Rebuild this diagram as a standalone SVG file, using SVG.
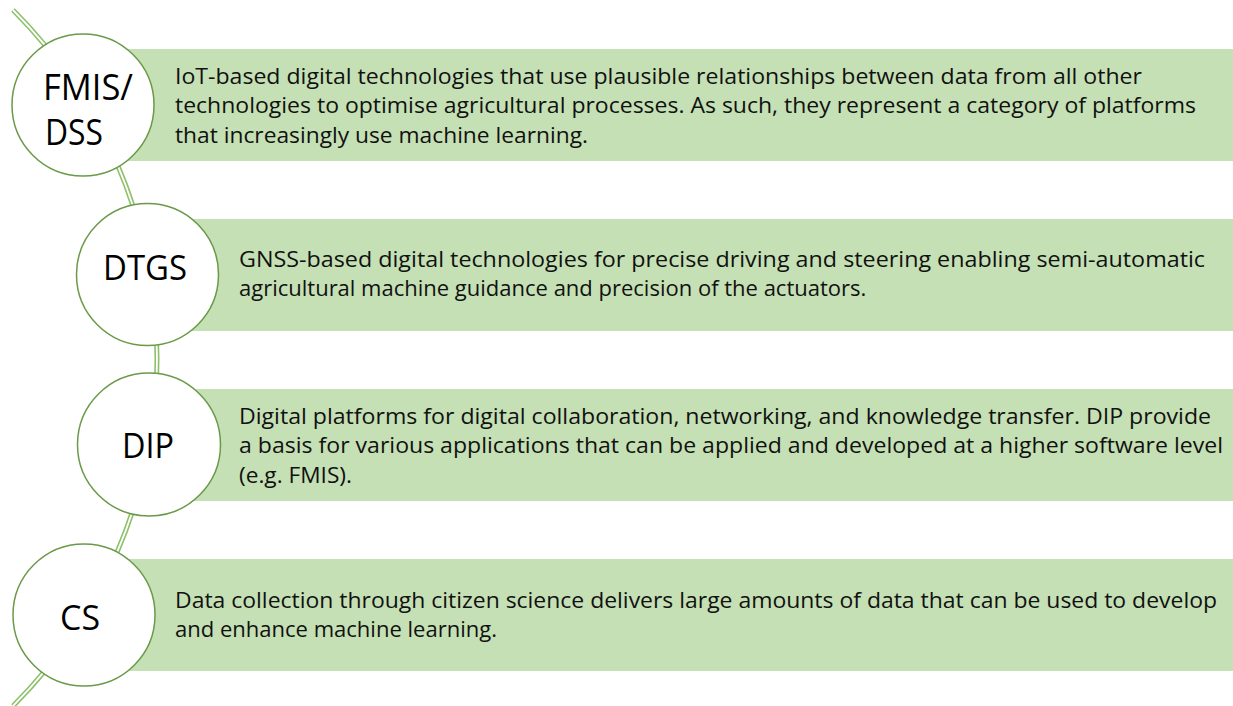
<svg xmlns="http://www.w3.org/2000/svg" width="1233" height="706" viewBox="0 0 1233 706">
<style>
.bar{fill:#C5E0B4;}
.node{fill:#FFFFFF;stroke:#6A9A48;stroke-width:1.5;}
.arcO{fill:none;stroke:#8DC06B;stroke-width:5;}
.arcI{fill:none;stroke:#FFFFFF;stroke-width:1.8;}
.lbl{font-family:"Open Sans","Noto Sans",sans-serif;fill:#000000;}
.txt{font-family:"Open Sans","Noto Sans",sans-serif;font-size:22px;fill:#111111;}
</style>
<rect width="1233" height="706" fill="#FFFFFF"/>
<g id="connectors">
<path class="arcO" d="M13,10 A492.5,492.5 0 0 1 13,706"/>
<path class="arcI" d="M13,10 A492.5,492.5 0 0 1 13,706"/>
</g>
<g id="node-fmis">
<rect class="bar" x="83" y="49" width="1150" height="112"/>
<circle class="node" cx="83" cy="105" r="71"/>
<text class="lbl" font-size="36" x="43" y="100" textLength="90" lengthAdjust="spacingAndGlyphs">FMIS/</text>
<text class="lbl" font-size="36" x="45" y="145" textLength="58" lengthAdjust="spacingAndGlyphs">DSS</text>
<text class="txt" x="175" y="84" textLength="967" lengthAdjust="spacingAndGlyphs">IoT-based digital technologies that use plausible relationships between data from all other</text>
<text class="txt" x="175" y="113" textLength="1021" lengthAdjust="spacingAndGlyphs">technologies to optimise agricultural processes. As such, they represent a category of platforms</text>
<text class="txt" x="175" y="143" textLength="413" lengthAdjust="spacingAndGlyphs">that increasingly use machine learning.</text>
</g>
<g id="node-dtgs">
<rect class="bar" x="148" y="219" width="1085" height="112"/>
<circle class="node" cx="147.5" cy="274.5" r="71"/>
<text class="lbl" font-size="34" x="103" y="280" textLength="84" lengthAdjust="spacingAndGlyphs">DTGS</text>
<text class="txt" x="239" y="267" textLength="966" lengthAdjust="spacingAndGlyphs">GNSS-based digital technologies for precise driving and steering enabling semi-automatic</text>
<text class="txt" x="239" y="296">agricultural machine guidance and precision of the actuators.</text>
</g>
<g id="node-dip">
<rect class="bar" x="149" y="389" width="1084" height="112"/>
<circle class="node" cx="149" cy="444.5" r="71.5"/>
<text class="lbl" font-size="35" x="122" y="458" textLength="52" lengthAdjust="spacingAndGlyphs">DIP</text>
<text class="txt" x="239" y="424" textLength="972" lengthAdjust="spacingAndGlyphs">Digital platforms for digital collaboration, networking, and knowledge transfer. DIP provide</text>
<text class="txt" x="239" y="453" textLength="984" lengthAdjust="spacingAndGlyphs">a basis for various applications that can be applied and developed at a higher software level</text>
<text class="txt" x="239" y="483" textLength="113" lengthAdjust="spacingAndGlyphs">(e.g. FMIS).</text>
</g>
<g id="node-cs">
<rect class="bar" x="84" y="559" width="1149" height="112"/>
<circle class="node" cx="84" cy="615" r="71"/>
<text class="lbl" font-size="34" x="60" y="630" textLength="40" lengthAdjust="spacingAndGlyphs">CS</text>
<text class="txt" x="175" y="608" textLength="1042" lengthAdjust="spacingAndGlyphs">Data collection through citizen science delivers large amounts of data that can be used to develop</text>
<text class="txt" x="175" y="637" textLength="322" lengthAdjust="spacingAndGlyphs">and enhance machine learning.</text>
</g>
</svg>
